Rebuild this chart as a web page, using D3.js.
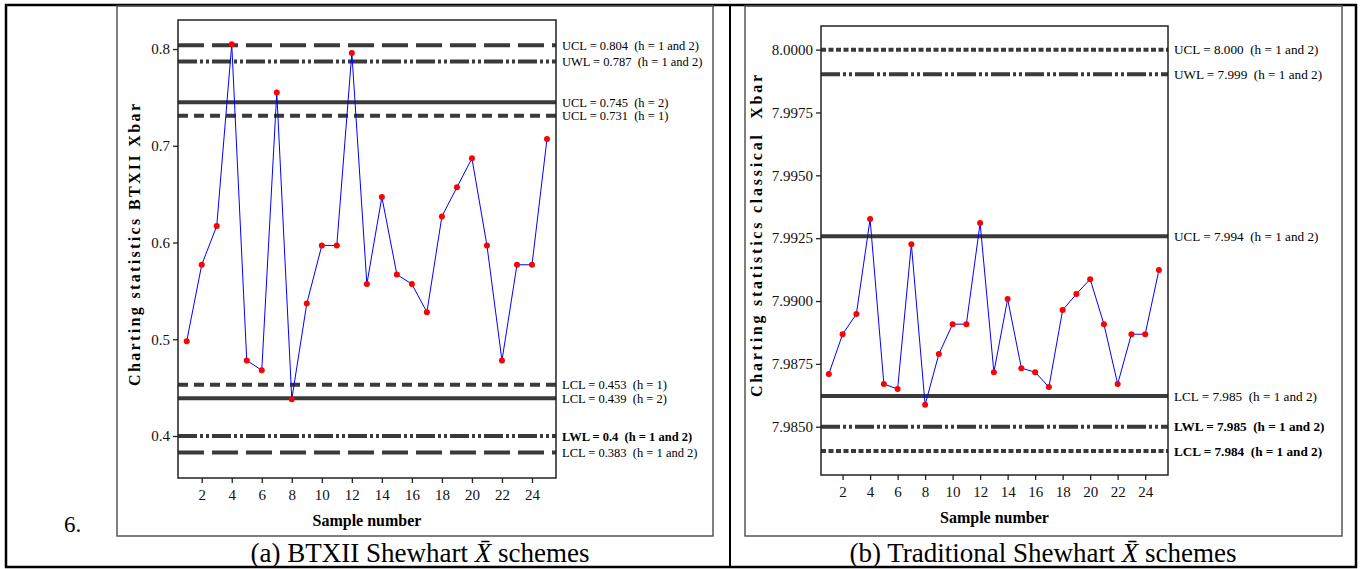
<!DOCTYPE html>
<html lang="en">
<head>
<meta charset="UTF-8">
<title>BTXII vs Traditional Shewhart Xbar schemes</title>
<script src="https://cdnjs.cloudflare.com/ajax/libs/d3/7.8.5/d3.min.js"></script>
<style>
  body { margin: 0; background: #fff; overflow: hidden; }
  svg text { font-family: "Liberation Serif", "Times New Roman", serif; }
</style>
</head>
<body>
<div id="chart"></div>
<script>
// ---- data ----
const samples = d3.range(1, 26);

// (a) BTXII charting statistics
const btxiiValues = [0.498, 0.577, 0.617, 0.805, 0.478, 0.468, 0.755, 0.438, 0.537, 0.597,
                     0.597, 0.796, 0.557, 0.647, 0.567, 0.557, 0.528, 0.627, 0.657, 0.687,
                     0.597, 0.478, 0.577, 0.577, 0.707];
const btxiiLimits = [0.804, 0.787, 0.745, 0.731, 0.453, 0.439, 0.400, 0.383];
const btxiiLimitLabels = [
  "UCL = 0.804  (h = 1 and 2)", "UWL = 0.787  (h = 1 and 2)",
  "UCL = 0.745  (h = 2)", "UCL = 0.731  (h = 1)",
  "LCL = 0.453  (h = 1)", "LCL = 0.439  (h = 2)",
  "LWL = 0.4  (h = 1 and 2)", "LCL = 0.383  (h = 1 and 2)"
];
const btxiiLimitKinds = ["long", "dashdot", "solid", "dash", "dash", "solid", "dashdot", "long"];
const btxiiBoldLabels = [false, false, false, false, false, false, true, false];
const btxiiTicks = [0.4, 0.5, 0.6, 0.7, 0.8];

// (b) classical charting statistics
const classicValues = [7.98710, 7.98868, 7.98948, 7.99326, 7.98670, 7.98650, 7.99226, 7.98587, 7.98789, 7.98908,
                       7.98908, 7.99310, 7.98717, 7.99008, 7.98733, 7.98717, 7.98658, 7.98964, 7.99028, 7.99087,
                       7.98908, 7.98670, 7.98868, 7.98868, 7.99123];
const classicLimits = [8.0000, 7.99902, 7.99258, 7.98622, 7.98500, 7.98403];
const classicLimitLabels = [
  "UCL = 8.000  (h = 1 and 2)", "UWL = 7.999  (h = 1 and 2)",
  "UCL = 7.994  (h = 1 and 2)", "LCL = 7.985  (h = 1 and 2)",
  "LWL = 7.985  (h = 1 and 2)", "LCL = 7.984  (h = 1 and 2)"
];
const classicLimitKinds = ["short", "dashdot", "solid", "solid", "dashdot", "short"];
const classicBoldLabels = [false, false, false, false, true, true];
const classicTicks = [7.9850, 7.9875, 7.9900, 7.9925, 7.9950, 7.9975, 8.0000];

const xTicks = d3.range(2, 25, 2);

// ---- styles ----
const dashes = {
  solid: null,
  long: "26,8",
  dash: "10,6",
  short: "5,2.5",
  dashdot: "19,3,3,3,3,3"
};
const limitColor = "#3a3a3a";

const svg = d3.select("#chart").append("svg")
  .attr("width", 1365).attr("height", 569);

// table cells and image frames
svg.append("rect").attr("x", 6).attr("y", 5).attr("width", 1350).attr("height", 562)
  .attr("fill", "none").attr("stroke", "#000").attr("stroke-width", 2.5);
svg.append("line").attr("x1", 730).attr("x2", 730).attr("y1", 5).attr("y2", 567)
  .attr("stroke", "#000").attr("stroke-width", 2);
[[117, 713], [745, 1342]].forEach(([a, b]) => {
  svg.append("rect").attr("x", a).attr("y", 6).attr("width", b - a).attr("height", 530)
    .attr("fill", "none").attr("stroke", "#555").attr("stroke-width", 1.5);
});

svg.append("text").attr("x", 64).attr("y", 532).attr("font-size", 23).text("6.");

function caption(cx, letter, name) {
  const t = svg.append("text").attr("x", cx).attr("y", 562)
    .attr("text-anchor", "middle").attr("font-size", 27).style("white-space", "pre");
  t.append("tspan").text(`(${letter}) ${name} `);
  t.append("tspan").attr("font-style", "italic").text("X\u0304");
  t.append("tspan").text(" schemes");
}
caption(420, "a", "BTXII Shewhart");
caption(1043, "b", "Traditional Shewhart");

function panel(cfg) {
  const x = d3.scaleLinear().domain(cfg.xDomain).range([cfg.left, cfg.right]);
  const y = d3.scaleLinear().domain(cfg.yDomain).range([cfg.bottom, cfg.top]);
  const g = svg.append("g");

  // control limits
  g.selectAll(".limit").data(cfg.limits).join("line")
    .attr("x1", cfg.left).attr("x2", cfg.right)
    .attr("y1", d => y(d)).attr("y2", d => y(d))
    .attr("stroke", limitColor).attr("stroke-width", 4)
    .attr("stroke-dasharray", (d, i) => dashes[cfg.kinds[i]]);

  g.selectAll(".limit-label").data(cfg.limits).join("text")
    .attr("x", cfg.right + 6).attr("y", d => y(d) + 4.5)
    .attr("font-size", cfg.labelSize)
    .attr("font-weight", (d, i) => cfg.bold[i] ? "bold" : "normal")
    .style("white-space", "pre")
    .text((d, i) => cfg.labels[i]);

  // series
  const line = d3.line().x((d, i) => x(samples[i])).y(d => y(d));
  g.append("path").datum(cfg.values)
    .attr("d", line).attr("fill", "none").attr("stroke", "#0000ff").attr("stroke-width", 1);
  g.selectAll(".pt").data(cfg.values).join("circle")
    .attr("cx", (d, i) => x(samples[i])).attr("cy", d => y(d)).attr("r", 3)
    .attr("fill", "#ff0000");

  // frame
  g.append("rect").attr("x", cfg.left).attr("y", cfg.top)
    .attr("width", cfg.right - cfg.left).attr("height", cfg.bottom - cfg.top)
    .attr("fill", "none").attr("stroke", "#222").attr("stroke-width", 1.5);

  // axes
  const ya = g.append("g").attr("transform", `translate(${cfg.left},0)`)
    .call(d3.axisLeft(y).tickValues(cfg.ticks).tickFormat(d3.format(cfg.fmt))
      .tickSize(5).tickPadding(3).tickSizeOuter(0));
  const xa = g.append("g").attr("transform", `translate(0,${cfg.bottom})`)
    .call(d3.axisBottom(x).tickValues(xTicks).tickSize(5).tickPadding(6).tickSizeOuter(0));
  [ya, xa].forEach(a => {
    a.select(".domain").remove();
    a.selectAll("line").attr("stroke", "#222").attr("stroke-width", 1.3);
    a.selectAll("text").attr("font-size", 15).attr("fill", "#111");
  });

  g.append("text")
    .attr("transform", `translate(${cfg.yTitleX},${cfg.yTitleY}) rotate(-90)`)
    .attr("text-anchor", "middle").attr("font-size", 16).attr("font-weight", "bold")
    .attr("textLength", cfg.yTitleLen).style("white-space", "pre")
    .text(cfg.yTitle);
  g.append("text")
    .attr("x", (cfg.left + cfg.right) / 2).attr("y", cfg.bottom + 48)
    .attr("text-anchor", "middle").attr("font-size", 16).attr("font-weight", "bold")
    .text("Sample number");
}

panel({
  left: 178, right: 556, top: 20, bottom: 478,
  xDomain: [0.42, 25.6], yDomain: [0.3566, 0.83],
  values: btxiiValues, limits: btxiiLimits, labels: btxiiLimitLabels,
  kinds: btxiiLimitKinds, bold: btxiiBoldLabels, ticks: btxiiTicks, fmt: ".1f",
  labelSize: 12.5, yTitle: "Charting statistics BTXII Xbar", yTitleX: 140, yTitleY: 245, yTitleLen: 282
});

panel({
  left: 821, right: 1168, top: 26, bottom: 475,
  xDomain: [0.43, 25.66], yDomain: [7.98308, 8.00094],
  values: classicValues, limits: classicLimits, labels: classicLimitLabels,
  kinds: classicLimitKinds, bold: classicBoldLabels, ticks: classicTicks, fmt: ".4f",
  labelSize: 13.2, yTitle: "Charting statistics classical  Xbar", yTitleX: 762, yTitleY: 236, yTitleLen: 322
});
</script>
</body>
</html>
